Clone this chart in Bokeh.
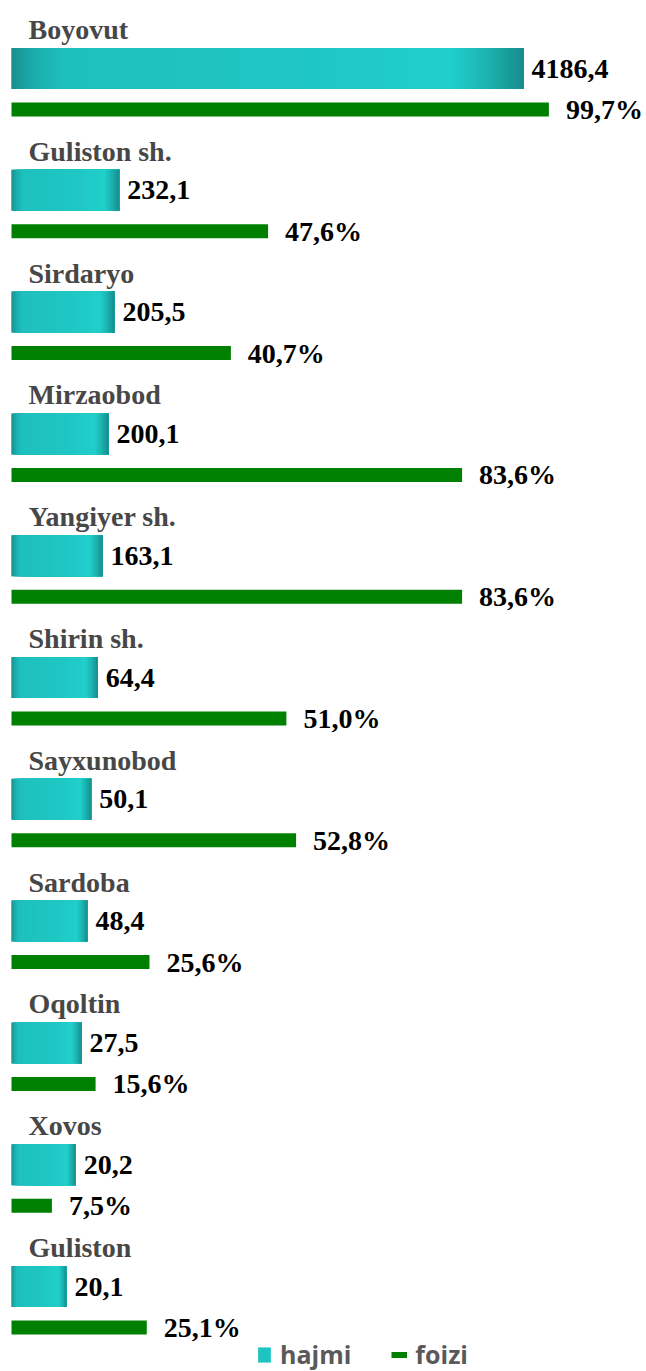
from bokeh.plotting import figure
from bokeh.models import Range1d, ColumnDataSource, Legend, LegendItem
from bokeh.embed import file_html
from bokeh.resources import INLINE
from bokeh.core.properties import value

# ---------------- data ----------------
categories = ["Boyovut", "Guliston sh.", "Sirdaryo", "Mirzaobod", "Yangiyer sh.",
              "Shirin sh.", "Sayxunobod", "Sardoba", "Oqoltin", "Xovos", "Guliston"]
hajmi = [4186.4, 232.1, 205.5, 200.1, 163.1, 64.4, 50.1, 48.4, 27.5, 20.2, 20.1]
foizi = [99.7, 47.6, 40.7, 83.6, 83.6, 51.0, 52.8, 25.6, 15.6, 7.5, 25.1]
# the "hajmi" bars of the source picture are not drawn to scale; their lengths as
# read off the picture, in units of the percent axis
hajmi_bar = [95.0, 20.0, 19.1, 18.0, 16.9, 16.0, 14.8, 14.1, 13.0, 11.9, 10.2]
series_names = ["hajmi", "foizi"]

# ---------------- layout ----------------
W, H = 646, 1371
LEFT = 11            # px from left edge to bar base
PX_X = 5.39          # px per percent unit
PITCH = 121.8        # px per group
TOP = 68             # px from top to centre of first teal bar
u = 1.0 / PITCH      # one px in y-units

n = len(categories)
idx = list(range(n))

p = figure(width=W, height=H, output_backend="svg", toolbar_location=None,
           x_range=Range1d(-LEFT / PX_X, (W - LEFT) / PX_X),
           y_range=Range1d(H / PITCH - TOP * u, -TOP * u),
           min_border=0, outline_line_color=None, background_fill_color="white",
           border_fill_color="white")
p.xaxis.visible = False
p.yaxis.visible = False
p.xgrid.visible = False
p.ygrid.visible = False

TEAL = "#1fc4c0"
GREEN = "#008000"

def fmt(v):
    return f"{v:.1f}".replace(".", ",")

src = ColumnDataSource(dict(
    y=idx,
    yg=[i + 41 * u for i in idx],
    yl=[i - 39 * u for i in idx],
    cat=categories,
    hb=hajmi_bar,
    hl=[fmt(v) for v in hajmi],
    fz=foizi,
    fl=[fmt(v) + "%" for v in foizi],
))

# base teal bars
teal = p.hbar(y="y", left=0, right="hb", height=41 * u, source=src,
              fill_color=TEAL, line_color=None)

# horizontal gradient: overlapping strips, each running to the bar's end
stops = [(0.0, (0x17, 0x8e, 0x8e)), (0.04, (0x1b, 0xab, 0xa9)), (0.10, (0x1e, 0xc0, 0xbd)),
         (0.55, (0x1f, 0xc6, 0xc3)), (0.86, (0x21, 0xcf, 0xcb)), (0.93, (0x1c, 0xb2, 0xaf)),
         (1.0, (0x16, 0x8c, 0x8c))]

def col_at(f):
    for (f0, c0), (f1, c1) in zip(stops[:-1], stops[1:]):
        if f0 <= f <= f1:
            t = (f - f0) / (f1 - f0) if f1 > f0 else 0
            return "#%02x%02x%02x" % tuple(int(round(a + (b - a) * t)) for a, b in zip(c0, c1))
    return "#%02x%02x%02x" % stops[-1][1]

gl, gr, gy, gc = [], [], [], []
for i, L in enumerate(hajmi_bar):
    ns = max(12, int(L * PX_X / 2))
    for k in range(ns):
        f0 = k / ns
        gl.append(L * f0)
        gr.append(L)
        gy.append(i)
        gc.append(col_at((k + 0.5) / ns))
p.hbar(y=gy, left=gl, right=gr, height=41 * u, fill_color=gc, line_color=None)

# green bars
green = p.hbar(y="yg", left=0, right="fz", height=14 * u, source=src,
               fill_color=GREEN, line_color=None)
green_leg = p.line(x=[-60, -59], y=[0, 0], line_color=GREEN, line_width=6)

# labels
SERIF = value("Liberation Serif")
p.text(x=0, y="yl", text="cat", source=src, x_offset=17, text_font=SERIF,
       text_font_size="28px", text_font_style="bold", text_color="#474747",
       text_baseline="middle", text_align="left")
p.text(x="hb", y="y", text="hl", source=src, x_offset=8, text_font=SERIF,
       text_font_size="28px", text_font_style="bold", text_color="#000000",
       text_baseline="middle", text_align="left")
p.text(x="fz", y="yg", text="fl", source=src, x_offset=17, text_font=SERIF,
       text_font_size="28px", text_font_style="bold", text_color="#000000",
       text_baseline="middle", text_align="left")

legend = Legend(items=[LegendItem(label=series_names[0], renderers=[teal]),
                       LegendItem(label=series_names[1], renderers=[green_leg])],
                orientation="horizontal", location=(256, 0),
                label_text_font="Open Sans", label_text_font_size="25px",
                label_text_font_style="bold", label_text_color="#595959",
                label_height=20, glyph_width=16, glyph_height=19, spacing=40,
                padding=0, margin=0, label_standoff=8,
                border_line_alpha=0, background_fill_alpha=0)
p.add_layout(legend, "center")

open("out.html", "w").write(file_html(p, INLINE))
